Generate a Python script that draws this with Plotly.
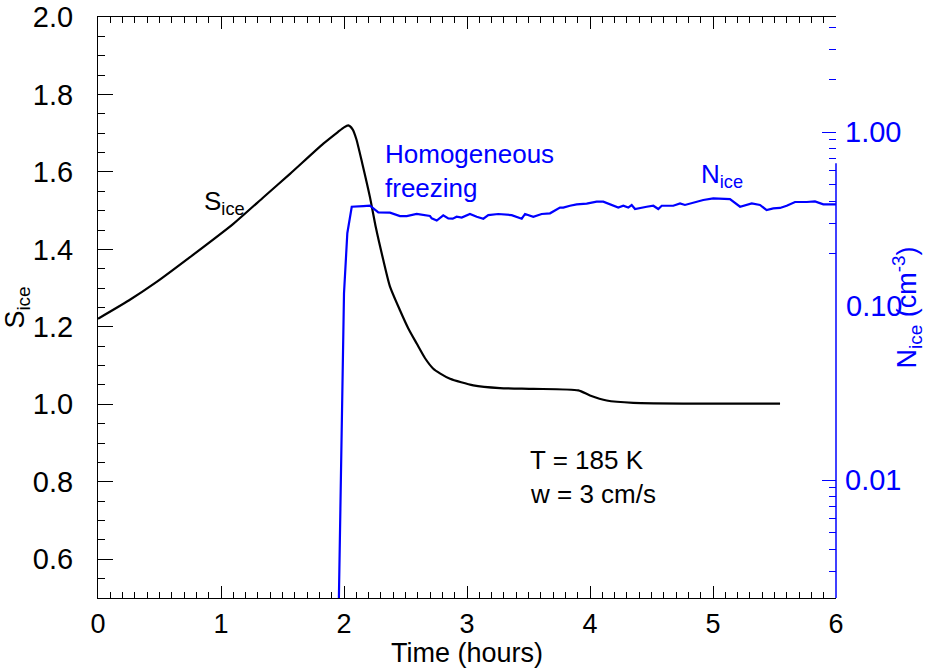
import math
import plotly.graph_objects as go

# ---- data ----
time_s = [0.0, 0.25, 0.477, 0.748, 1.10, 1.35, 1.561, 1.832, 1.95, 2.0, 2.035, 2.07, 2.1, 2.15,
          2.211, 2.26, 2.32, 2.374, 2.455, 2.523, 2.591, 2.659, 2.726, 2.780, 2.862, 3.051, 3.268,
          3.539, 3.905, 4.0, 4.136, 4.352, 4.894, 5.545]
s_ice = [1.221, 1.268, 1.316, 1.380, 1.466, 1.536, 1.595, 1.673, 1.703, 1.715, 1.720, 1.710, 1.685, 1.620,
         1.535, 1.455, 1.372, 1.304, 1.243, 1.196, 1.157, 1.119, 1.092, 1.080, 1.066, 1.049, 1.042,
         1.040, 1.036, 1.023, 1.010, 1.004, 1.002, 1.002]

time_n = [1.955, 1.981, 2.0, 2.027, 2.063, 2.157, 2.211, 2.279, 2.374, 2.455, 2.510, 2.591, 2.645,
          2.699, 2.713, 2.754, 2.807, 2.848, 2.884, 2.916, 2.957, 3.024, 3.079, 3.133, 3.173, 3.254,
          3.363, 3.445, 3.472, 3.539, 3.607, 3.675, 3.756, 3.783, 3.837, 3.892, 3.973, 4.054, 4.108,
          4.189, 4.230, 4.271, 4.311, 4.339, 4.366, 4.461, 4.515, 4.555, 4.583, 4.677, 4.732, 4.772,
          4.840, 4.921, 5.002, 5.084, 5.138, 5.220, 5.315, 5.382, 5.436, 5.490, 5.545, 5.599, 5.667,
          5.762, 5.829, 5.897, 6.0]
n_ice = [0.0015, 0.0155, 0.118, 0.262, 0.372, 0.375, 0.377, 0.345, 0.344, 0.329, 0.329, 0.338, 0.332,
         0.329, 0.319, 0.310, 0.332, 0.319, 0.3175, 0.326, 0.3225, 0.338, 0.326, 0.3175, 0.333, 0.338,
         0.333, 0.3175, 0.338, 0.326, 0.338, 0.341, 0.368, 0.368, 0.377, 0.384, 0.388, 0.398, 0.398,
         0.377, 0.368, 0.377, 0.368, 0.3806, 0.361, 0.372, 0.377, 0.361, 0.377, 0.377, 0.389, 0.381,
         0.394, 0.4066, 0.416, 0.412, 0.412, 0.372, 0.389, 0.381, 0.356, 0.364, 0.366, 0.377, 0.396,
         0.396, 0.399, 0.384, 0.384]

x_ticks = [0, 1, 2, 3, 4, 5, 6]
s_ticks = [0.6, 0.8, 1.0, 1.2, 1.4, 1.6, 1.8, 2.0]
n_major = [1.0, 0.01]
n_major_text = ["1.00", "0.01"]
n_minor = [4, 3, 2, 0.9, 0.8, 0.7, 0.6, 0.5, 0.4, 0.3, 0.2,
           0.009, 0.008, 0.007, 0.006, 0.005, 0.004, 0.003]

BLUE = "#0000FF"
FONT = "Liberation Sans, Arial, Helvetica, sans-serif"
FT = 29   # y tick labels
FX = 27   # x tick labels
FTT = 27  # axis titles
FA = 26   # annotations

n_lo, n_hi = -2.678, 0.661   # log10 range of right axis

fig = go.Figure()
fig.add_trace(go.Scatter(x=time_s, y=s_ice, mode="lines",
                         line=dict(color="black", width=2.2, shape="spline", smoothing=0.6),
                         showlegend=False, hoverinfo="skip"))
fig.add_trace(go.Scatter(x=time_n, y=n_ice, mode="lines", yaxis="y2",
                         line=dict(color=BLUE, width=2.2), showlegend=False, hoverinfo="skip"))
fig.add_trace(go.Scatter(x=[None], y=[None], mode="lines", yaxis="y3",
                         showlegend=False, hoverinfo="skip"))

fig.update_layout(
    width=926, height=668,
    margin=dict(l=98, r=90, t=17, b=70, autoexpand=False),
    paper_bgcolor="white", plot_bgcolor="white",
    font=dict(family=FONT, size=FT, color="black"),
    xaxis=dict(range=[0, 6], tickvals=x_ticks, ticks="inside", ticklen=12, tickwidth=1,
               tickcolor="black", showline=True, linecolor="black", linewidth=1, mirror="ticks",
               showgrid=False, zeroline=False, automargin=False,
               minor=dict(dtick=0.1, ticks="inside", ticklen=6, tickcolor="black", showgrid=False),
               ticklabelstandoff=2, tickfont=dict(size=FX),
               title=dict(text="Time (hours)", standoff=6, font=dict(size=FTT))),
    yaxis=dict(range=[0.5, 2.0], tickvals=s_ticks, tickformat=".1f", ticks="inside", ticklen=15,
               tickwidth=1, tickcolor="black", showline=True, linecolor="black", linewidth=1,
               mirror=False, showgrid=False, zeroline=False, automargin=False,
               minor=dict(dtick=0.05, ticks="inside", ticklen=7, tickcolor="black", showgrid=False),
               ticklabelstandoff=18, tickfont=dict(size=FT),
               title=dict(text="S<sub>ice</sub>", standoff=14, font=dict(size=FTT))),
    yaxis2=dict(type="log", overlaying="y", side="right", anchor="x", range=[n_lo, n_hi],
                tickvals=n_major, ticktext=n_major_text, ticks="inside", ticklen=14, tickwidth=1,
                tickcolor=BLUE, tickfont=dict(color=BLUE, size=FT), showline=False,
                showgrid=False, zeroline=False, ticklabelstandoff=8, automargin=False,
                title=dict(text="N<sub>ice</sub> (cm<sup>-3</sup>)", standoff=11,
                           font=dict(color=BLUE, size=FTT))),
    yaxis3=dict(type="log", overlaying="y", side="right", anchor="x", range=[n_lo, n_hi],
                tickvals=n_minor, ticks="inside", ticklen=7, tickwidth=1, tickcolor=BLUE,
                showticklabels=False, showline=False, showgrid=False, zeroline=False,
                automargin=False),
)

# right-hand (blue) axis line, drawn in two pieces as in the reference
fig.add_shape(type="line", xref="paper", yref="y2", x0=1, x1=1,
              y0=math.log10(0.2), y1=n_hi, line=dict(color=BLUE, width=1.5))
fig.add_shape(type="line", xref="paper", yref="y2", x0=1, x1=1,
              y0=n_lo, y1=math.log10(0.018), line=dict(color=BLUE, width=1.5))

# "0.10" label sits in the gap without a tick
fig.add_annotation(text="0.10", xref="paper", yref="y2", x=1, y=-1, xanchor="left",
                   yanchor="middle", xshift=8, showarrow=False, font=dict(color=BLUE, size=FT))

fig.add_annotation(text="S<sub>ice</sub>", x=1.03, y=1.52, xanchor="center", yanchor="middle",
                   showarrow=False, font=dict(size=FA))
fig.add_annotation(text="Homogeneous<br>freezing", x=2.317, y=1.69, xanchor="left", yanchor="top",
                   align="left", showarrow=False, font=dict(color=BLUE, size=FA))
fig.add_annotation(text="N<sub>ice</sub>", x=5.07, y=1.59, xanchor="center", yanchor="middle",
                   showarrow=False, font=dict(color=BLUE, size=FA))
fig.add_annotation(text="T = 185 K", x=3.496, y=0.856, xanchor="left", yanchor="middle",
                   showarrow=False, font=dict(size=FA))
fig.add_annotation(text="w = 3 cm/s", x=3.496, y=0.768, xanchor="left", yanchor="middle",
                   showarrow=False, font=dict(size=FA))

fig.write_html("out.html", config={"displayModeBar": False},
               post_script="document.body.style.margin='0';document.body.style.padding='0';")
